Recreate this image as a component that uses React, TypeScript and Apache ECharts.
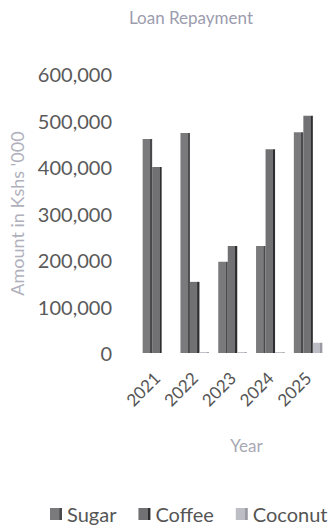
import React, { useEffect, useRef } from "react";
import * as echarts from "echarts";

const years = ["2021", "2022", "2023", "2024", "2025"];
const sugar = [460000, 473000, 196000, 230000, 475000];
const coffee = [400000, 153000, 230000, 438000, 510000];
const coconut = [0, 2000, 2000, 2000, 22000];
const yTicks = { min: 0, max: 600000, interval: 100000 };

const FONT = "Lato, 'Open Sans', sans-serif";

function barGrad(base: string, edge: string) {
  return new echarts.graphic.LinearGradient(0, 0, 1, 0, [
    { offset: 0, color: base },
    { offset: 0.78, color: base },
    { offset: 0.8, color: edge },
    { offset: 1, color: edge },
  ]);
}

export default function App() {
  const ref = useRef<HTMLDivElement>(null);
  useEffect(() => {
    if (!ref.current) return;
    const chart = echarts.init(ref.current, undefined, { renderer: "svg" });
    chart.setOption({
      animation: false,
      backgroundColor: "#ffffff",
      title: {
        text: "Loan Repayment",
        left: 186,
        textAlign: "center",
        top: 4,
        textStyle: { fontFamily: FONT, fontSize: 17, fontWeight: "normal", color: "#9c9cae" },
      },
      grid: { left: 138, right: 6, top: 74, bottom: 175 },
      legend: {
        bottom: 4,
        left: 50,
        width: 283,
        padding: 0,
        itemWidth: 12,
        itemHeight: 12,
        itemGap: 22,
        icon: "rect",
        textStyle: { fontFamily: FONT, fontSize: 20, color: "#555555" },
        data: ["Sugar", "Coffee", "Coconut"],
      },
      xAxis: {
        type: "category",
        data: years,
        name: "Year",
        nameLocation: "middle",
        nameGap: 84,
        nameTextStyle: { fontFamily: FONT, fontSize: 17, color: "#a8a8b4", padding: [0, 0, 0, 28] },
        axisLine: { show: false },
        axisTick: { show: false },
        axisLabel: { rotate: 45, margin: 22, fontFamily: FONT, fontSize: 17, color: "#555555" },
      },
      yAxis: {
        type: "value",
        min: yTicks.min,
        max: yTicks.max,
        interval: yTicks.interval,
        name: "Amount in Kshs '000",
        nameLocation: "middle",
        nameGap: 112,
        nameTextStyle: { fontFamily: FONT, fontSize: 18, color: "#b0b0bc" },
        splitLine: { show: false },
        axisLine: { show: false },
        axisTick: { show: false },
        axisLabel: {
          margin: 26,
          fontFamily: FONT,
          fontSize: 20,
          color: "#5a5a5a",
          formatter: (v: number) => v.toLocaleString("en-US"),
        },
      },
      series: [
        {
          name: "Sugar",
          type: "bar",
          data: sugar,
          barWidth: 9.5,
          barGap: "0%",
          itemStyle: { color: barGrad("#7a7a7c", "#4a4a4c") },
        },
        {
          name: "Coffee",
          type: "bar",
          data: coffee,
          barWidth: 9.5,
          barGap: "0%",
          itemStyle: { color: barGrad("#717173", "#2e2e30") },
        },
        {
          name: "Coconut",
          type: "bar",
          data: coconut,
          barWidth: 9.5,
          barGap: "0%",
          itemStyle: { color: barGrad("#bdbdc5", "#9a9aa2") },
        },
      ],
    });
    return () => chart.dispose();
  }, []);
  return (
    <div
      ref={ref}
      style={{ position: "fixed", left: 0, top: 0, width: 333, height: 528 }}
    />
  );
}
